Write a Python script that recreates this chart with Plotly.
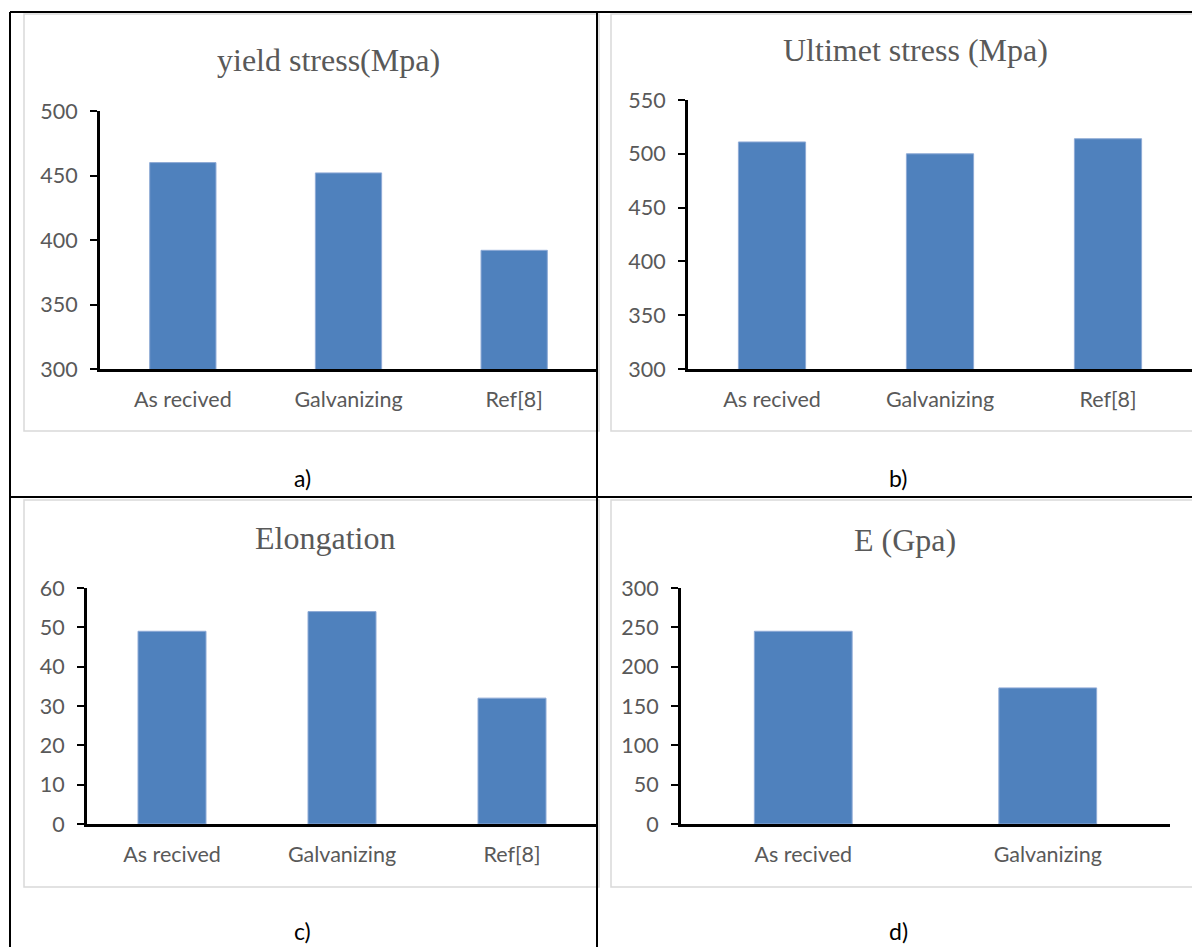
import plotly.graph_objects as go

W, H = 1192, 947

cats3 = ["As recived", "Galvanizing", "Ref[8]"]
cats2 = ["As recived", "Galvanizing"]
yield_stress = [460, 452, 392]
ultimate_stress = [511, 500, 514]
elongation = [49, 54, 32]
modulus_E = [245, 173]

titles = ["yield stress(Mpa)", "Ultimet stress (Mpa)", "Elongation", "E (Gpa)"]
panel_labels = ["a)", "b)", "c)", "d)"]

BAR = "#4f81bd"
GREY_TXT = "#595959"
TICK_FONT = dict(family="Lato, Open Sans, sans-serif", size=21.5, color=GREY_TXT)


def px_x(v):
    return v / W


def px_y(v):
    return 1 - v / H


# panel geometry in pixels: (x0, x1, ytop, ybottom)
panels = [
    (100, 597, 111, 369),
    (688, 1192, 100, 369),
    (87, 597, 588, 824),
    (681, 1170, 588, 824),
]
yranges = [(300, 500, 50), (300, 550, 50), (0, 60, 10), (0, 300, 50)]
data = [(cats3, yield_stress), (cats3, ultimate_stress), (cats3, elongation), (cats2, modulus_E)]

fig = go.Figure()
layout = dict(
    width=W, height=H, margin=dict(l=0, r=0, t=0, b=0, autoexpand=False),
    paper_bgcolor="white", plot_bgcolor="rgba(0,0,0,0)", showlegend=False,
)

for i, ((x0, x1, yt, yb), (lo, hi, st), (cats, vals)) in enumerate(zip(panels, yranges, data)):
    n = i + 1
    xa = "x" if n == 1 else f"x{n}"
    ya = "y" if n == 1 else f"y{n}"
    fig.add_trace(go.Bar(x=cats, y=vals, xaxis=xa, yaxis=ya, width=0.4,
                         marker=dict(color=BAR, line=dict(color="#8eaad6", width=1)),
                         hoverinfo="x+y"))
    layout[f"xaxis{'' if n == 1 else n}"] = dict(
        domain=[px_x(x0), px_x(x1)], anchor=ya, range=[-0.5, len(cats) - 0.5],
        showline=True, linecolor="black", linewidth=3, ticks="", showgrid=False,
        tickfont=TICK_FONT, fixedrange=True, automargin=False, ticklabelstandoff=9,
    )
    layout[f"yaxis{'' if n == 1 else n}"] = dict(
        domain=[px_y(yb), px_y(yt)], anchor=xa, range=[lo, hi],
        tickvals=list(range(lo, hi + 1, st)),
        showline=True, linecolor="black", linewidth=3, ticks="outside",
        ticklen=7, tickwidth=2, tickcolor="black", showgrid=False, zeroline=False,
        tickfont=TICK_FONT, fixedrange=True, automargin=False, ticklabelstandoff=8,
    )

shapes = []
# light grey chart frames
frames = [(24, 599, 14, 431), (611, 1195, 14, 431), (24, 599, 500, 887), (611, 1195, 500, 887)]
for (a, b, c, d) in frames:
    shapes.append(dict(type="rect", xref="paper", yref="paper",
                       x0=px_x(a), x1=px_x(b), y0=px_y(d), y1=px_y(c),
                       line=dict(color="#d9d9d9", width=1.5), fillcolor="rgba(0,0,0,0)", layer="below"))
# black table lines
tbl = [
    (10, 12, 1192, 12),
    (10, 12, 10, 947),
    (597, 12, 597, 947),
    (10, 497, 1192, 497),
]
for (a, b, c, d) in tbl:
    shapes.append(dict(type="line", xref="paper", yref="paper",
                       x0=px_x(a), y0=px_y(b), x1=px_x(c), y1=px_y(d),
                       line=dict(color="black", width=2)))
layout["shapes"] = shapes

annotations = []
title_pos = [(328, 60), (915, 50), (325, 538), (905, 540)]
for t, (x, y) in zip(titles, title_pos):
    annotations.append(dict(text=t, x=px_x(x), y=px_y(y), xref="paper", yref="paper",
                            showarrow=False, xanchor="center", yanchor="middle",
                            font=dict(family="Liberation Serif, Times New Roman, serif", size=32, color=GREY_TXT)))
label_pos = [(302, 478), (898, 478), (302, 931), (898, 931)]
for t, (x, y) in zip(panel_labels, label_pos):
    annotations.append(dict(text=t, x=px_x(x), y=px_y(y), xref="paper", yref="paper",
                            showarrow=False, xanchor="center", yanchor="middle", borderpad=0,
                            font=dict(family="Lato, Open Sans, sans-serif", size=23, color="black")))
layout["annotations"] = annotations

fig.update_layout(**layout)
fig.write_html(
    "out.html",
    config={"displayModeBar": False},
    post_script="document.body.style.margin='0';document.documentElement.style.overflow='hidden';",
)
